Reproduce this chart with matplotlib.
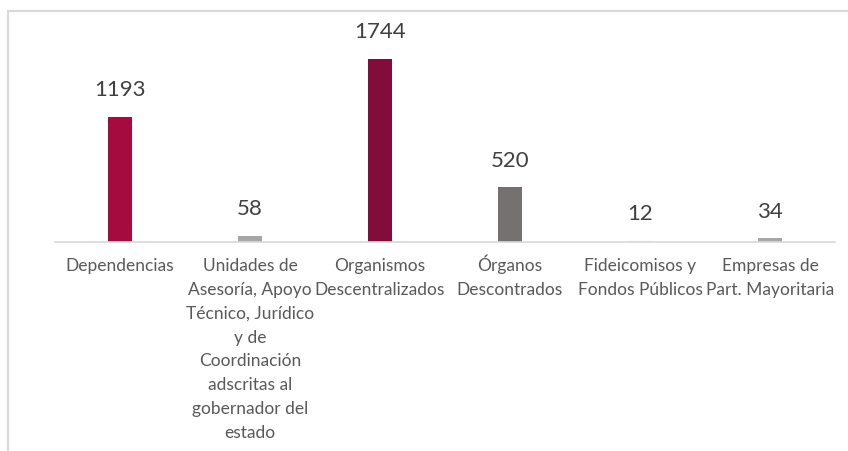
import matplotlib.pyplot as plt
import matplotlib.transforms as mtransforms
from matplotlib.lines import Line2D
import numpy as np

plt.rcParams['font.family'] = ['Lato', 'DejaVu Sans']

categorias = ['Dependencias',
              'Unidades de\nAsesoría, Apoyo\nTécnico, Jurídico\ny de\nCoordinación\nadscritas al\ngobernador del\nestado',
              'Organismos\nDescentralizados',
              'Órganos\nDescontrados',
              'Fideicomisos y\nFondos Públicos',
              'Empresas de\nPart. Mayoritaria']
valores = [1193, 58, 1744, 520, 12, 34]
colores = ['#A50B3E', '#A6A6A6', '#820C3A', '#767171', '#E8D5CF', '#A6A6A6']

fig = plt.figure(figsize=(8.48, 4.52), dpi=100)
ax = fig.add_axes([55/848, 209/452, 780/848, 183/452])

x = np.arange(len(valores))
ax.bar(x, valores, width=0.177, color=colores)
ax.set_xlim(-0.5, len(valores) - 0.5)
ax.set_ylim(0, 1744)

for xi, v in zip(x, valores):
    ax.annotate(str(v), (xi, v), xytext=(0, 20), textcoords='offset points',
                ha='center', va='center', fontsize=16, color='#404040',
                annotation_clip=False)

ax.set_xticks(x)
ax.set_xticklabels(categorias, fontsize=12.5, color='#595959', linespacing=1.6, va='top')
ax.tick_params(axis='x', length=0, pad=11)
# la tilde de "Órganos" empuja el texto hacia abajo; se compensa
for lbl in ax.get_xticklabels():
    if lbl.get_text().startswith('Ó'):
        lbl.set_transform(lbl.get_transform() +
                          mtransforms.ScaledTranslation(0, 4/100, fig.dpi_scale_trans))
ax.set_yticks([])
for s in ['top', 'right', 'left']:
    ax.spines[s].set_visible(False)
ax.spines['bottom'].set_color('#D9D9D9')
ax.spines['bottom'].set_linewidth(1.2)

# marco del gráfico
fig.add_artist(Line2D([8/848, 1], [1 - 12/452, 1 - 12/452], color='#D9D9D9', lw=1.5))
fig.add_artist(Line2D([8/848, 8/848], [0, 1 - 12/452], color='#D9D9D9', lw=1.5))

fig.savefig('out.png', dpi=100)
